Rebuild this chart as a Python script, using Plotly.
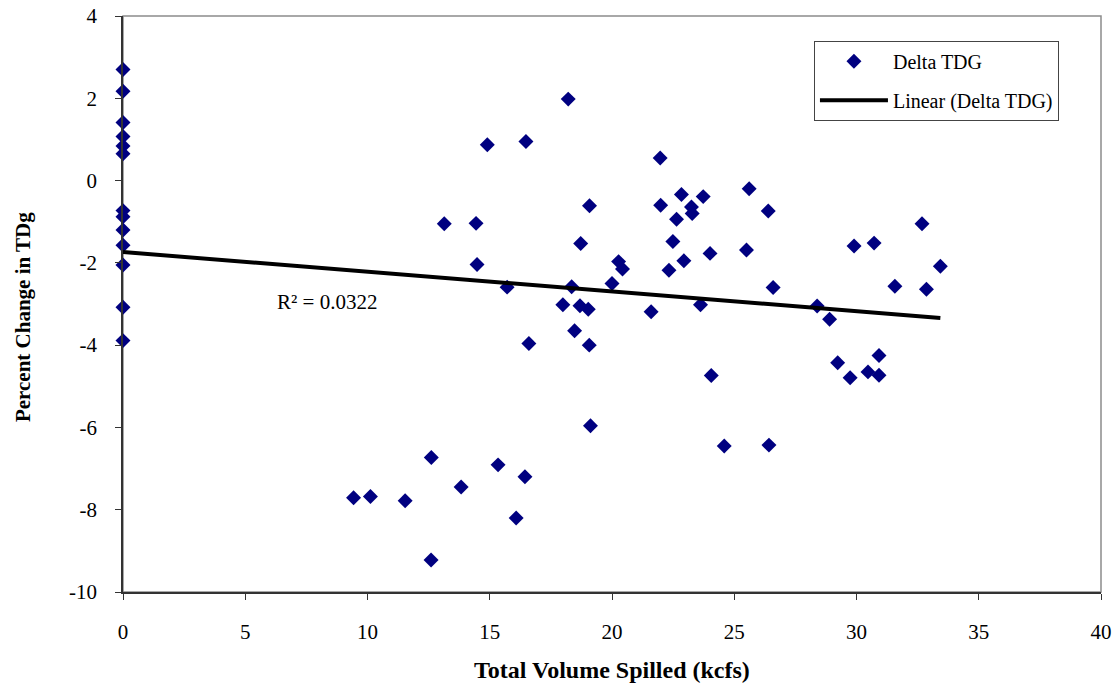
import numpy as np
import plotly.graph_objects as go

# Total volume spilled (kcfs) and percent change in TDG
spill = [0, 0, 0, 0, 0, 0, 0, 0, 0, 0, 0, 0, 0,
         9.43, 10.12, 11.54, 12.61, 12.60, 13.14, 13.83, 14.44, 14.48, 14.90,
         15.34, 15.71, 16.08, 16.44, 16.48, 16.60, 17.99, 18.21, 18.35, 18.47,
         18.72, 18.69, 19.03, 19.07, 19.08, 19.12, 20.00, 20.27, 20.43, 21.60,
         21.97, 21.99, 22.33, 22.49, 22.64, 22.84, 22.94, 23.25, 23.28, 23.62,
         23.73, 24.01, 24.06, 24.59, 25.61, 25.50, 26.39, 26.42, 26.59, 28.39,
         28.90, 29.23, 29.74, 29.90, 30.47, 30.72, 30.92, 30.92, 31.57, 32.68,
         32.86, 33.43]
delta_tdg = [2.70, 2.17, 1.41, 1.07, 0.84, 0.65, -0.73, -0.88, -1.20, -1.57, -2.05, -3.08, -3.89,
             -7.71, -7.68, -7.78, -6.73, -9.22, -1.05, -7.45, -1.04, -2.04, 0.87,
             -6.91, -2.59, -8.20, -7.20, 0.95, -3.96, -3.02, 1.98, -2.58, -3.65,
             -1.53, -3.04, -3.13, -4.00, -0.61, -5.96, -2.50, -1.97, -2.15, -3.19,
             0.55, -0.60, -2.18, -1.48, -0.94, -0.34, -1.95, -0.64, -0.80, -3.02,
             -0.39, -1.77, -4.74, -6.45, -0.20, -1.69, -0.74, -6.43, -2.60, -3.05,
             -3.37, -4.43, -4.79, -1.59, -4.65, -1.52, -4.25, -4.73, -2.57, -1.05,
             -2.64, -2.08]
r2_label = "R² = 0.0322"
x_title = "Total Volume Spilled (kcfs)"
y_title = "Percent Change in TDg"

x_ticks = [0, 5, 10, 15, 20, 25, 30, 35, 40]
x_labels = ["0", "5", "10", "15", "20", "25", "30", "35", "40"]
y_ticks = [4, 2, 0, -2, -4, -6, -8, -10]
y_labels = ["4", "2", "0", "-2", "-4", "-6", "-8", "-10"]

xs = np.array(spill, dtype=float)
ys = np.array(delta_tdg, dtype=float)
slope, intercept = np.polyfit(xs, ys, 1)
trend_x = np.array([xs.min(), xs.max()])
trend_y = intercept + slope * trend_x

FONT = "Liberation Serif, Times New Roman, serif"

fig = go.Figure()
fig.add_trace(go.Scatter(
    x=spill, y=delta_tdg, mode="markers", name="Delta TDG",
    marker=dict(symbol="diamond", size=11.5, color="#000080", line=dict(width=0)),
    legendgroup="a", cliponaxis=False,
))
fig.add_trace(go.Scatter(
    x=trend_x, y=trend_y, mode="lines", name="Linear (Delta TDG)",
    line=dict(color="black", width=4),
    legendgroup="b", cliponaxis=False,
))

fig.add_annotation(x=8.35, y=-2.95, text=r2_label, showarrow=False,
                   font=dict(family=FONT, size=21, color="black"))

# axis titles
fig.add_annotation(xref="paper", yref="paper", x=0.5, y=-0.135,
                   xanchor="center", yanchor="middle", showarrow=False,
                   text="<b>" + x_title + "</b>",
                   font=dict(family=FONT, size=24, color="black"))
fig.add_annotation(xref="paper", yref="paper", x=-0.1022, y=0.4774,
                   xanchor="center", yanchor="middle", showarrow=False,
                   textangle=-90, text="<b>" + y_title + "</b>",
                   font=dict(family=FONT, size=21, color="black"))

# gray plot-area border (top/right)
fig.add_shape(type="rect", xref="paper", yref="paper", x0=0, y0=0, x1=1, y1=1,
              line=dict(color="#8c8c8c", width=1.5), layer="below")

fig.update_layout(
    width=1118, height=687,
    margin=dict(l=123, r=17, t=16, b=95),
    paper_bgcolor="white", plot_bgcolor="white",
    font=dict(family=FONT, size=21, color="black"),
    showlegend=True,
    legend=dict(x=0.7065, y=0.957, xanchor="left", yanchor="top",
                bordercolor="#444444", borderwidth=1, bgcolor="white",
                font=dict(family=FONT, size=20), tracegroupgap=10,
                traceorder="grouped", itemwidth=68),
    xaxis=dict(range=[0, 40], tickvals=x_ticks, ticktext=x_labels,
               ticks="outside", ticklen=6, ticklabelstandoff=14,
               ticklabeloverflow="allow",
               tickcolor="#333333", showline=True, linecolor="#333333", linewidth=1.5,
               showgrid=False, zeroline=False, automargin=False,
               tickfont=dict(family=FONT, size=21)),
    yaxis=dict(range=[-10, 4], tickvals=y_ticks, ticktext=y_labels,
               ticks="outside", ticklen=6, ticklabelstandoff=14,
               ticklabeloverflow="allow",
               tickcolor="#333333", showline=True, linecolor="#333333", linewidth=1.5,
               showgrid=False, zeroline=False, automargin=False,
               tickfont=dict(family=FONT, size=21)),
)

fig.write_html("out.html", config={"displayModeBar": False},
               post_script="document.body.style.margin='0';document.body.style.overflow='hidden';")
